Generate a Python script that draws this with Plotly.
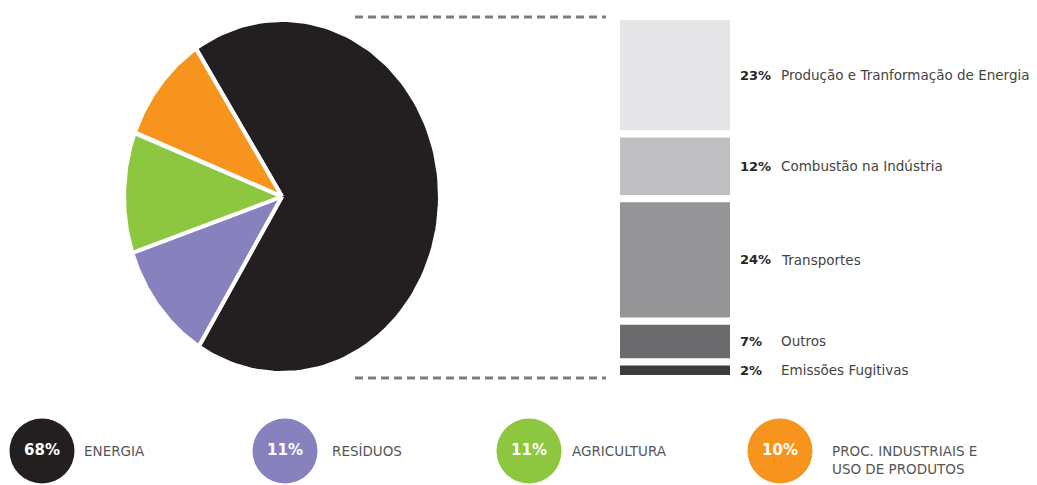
import numpy as np
import plotly.graph_objects as go

W, H = 1037, 485

# Emission sectors (pie + legend row)
sectors = ["ENERGIA", "RESÍDUOS", "AGRICULTURA", "PROC. INDUSTRIAIS E<br>USO DE PRODUTOS"]
sector_pct = [68, 11, 11, 10]
sector_colors = ["#231f20", "#8781bd", "#8dc63f", "#f7941d"]

# Breakdown of the energy sector (stacked column)
energy_parts = ["Produção e Tranformação de Energia", "Combustão na Indústria",
                "Transportes", "Outros", "Emissões Fugitivas"]
energy_pct = [23, 12, 24, 7, 2]
energy_colors = ["#e6e6e8", "#bfbfc1", "#959598", "#6b6b6d", "#3c3c3e"]

FONT = "DejaVu Sans"
START_DEG = -33          # first slice starts here, clockwise from 12 o'clock
GAP = 1.5                # vertical gap between column blocks (in % units)

fig = go.Figure()

# ---- pie drawn as filled wedges on its own (stretched) axes ----
start = START_DEG
for name, pct, col in zip(sectors, sector_pct, sector_colors):
    span = pct / 100 * 360
    th = np.radians(np.linspace(start, start + span, 120))
    xs = np.concatenate([[0], np.sin(th), [0]])
    ys = np.concatenate([[0], np.cos(th), [0]])
    fig.add_trace(go.Scatter(x=xs, y=ys, mode="lines", fill="toself",
                             fillcolor=col, line=dict(color="white", width=4),
                             hoverinfo="skip", showlegend=False,
                             xaxis="x", yaxis="y"))
    start += span

# ---- stacked column for the energy breakdown ----
top = sum(energy_pct) + GAP * (len(energy_pct) - 1)
bases, cur = [], top
for p in energy_pct:
    bases.append(cur - p)
    cur -= p + GAP
fig.add_trace(go.Bar(x=[0] * len(energy_pct), y=energy_pct, base=bases, width=1,
                     marker=dict(color=energy_colors, line=dict(width=0)),
                     hoverinfo="skip", showlegend=False, xaxis="x2", yaxis="y2"))

for part, p, b in zip(energy_parts, energy_pct, bases):
    yc = b + p / 2
    fig.add_annotation(x=738 / W, xref="paper", y=yc, yref="y2", xanchor="left",
                       yanchor="middle", showarrow=False,
                       text=f"<b>{p}%</b>", font=dict(family=FONT, size=13, color="#262626"))
    fig.add_annotation(x=779 / W, xref="paper", y=yc, yref="y2", xanchor="left",
                       yanchor="middle", showarrow=False,
                       text=part, font=dict(family=FONT, size=13.5, color="#444444"))

# ---- legend row: coloured discs with percentages ----
legend_cx = [42, 285, 529, 780]
legend_tx = [82, 330, 570, 830]
legend_cy = 451
fig.add_trace(go.Scatter(x=legend_cx, y=[legend_cy] * 4, mode="markers+text",
                         marker=dict(size=65, color=sector_colors, line=dict(width=0)),
                         text=[f"<b>{p}%</b>" for p in sector_pct],
                         textposition="middle center",
                         textfont=dict(family=FONT, size=15, color="white"),
                         hoverinfo="skip", showlegend=False, xaxis="x3", yaxis="y3"))
for name, tx in zip(sectors, legend_tx):
    two = "<br>" in name
    fig.add_annotation(x=tx, y=legend_cy + (9 if two else 0), xref="x3", yref="y3",
                       xanchor="left", yanchor="middle", align="left", showarrow=False,
                       text=name, font=dict(family=FONT, size=13.5, color="#555555"))

# ---- dashed connector lines between pie and column ----
for ypx in (17, 378):
    fig.add_shape(type="line", xref="paper", yref="paper",
                  x0=355 / W, x1=606 / W, y0=(H - ypx) / H, y1=(H - ypx) / H,
                  line=dict(color="#7d7d7d", width=3, dash="8px,5px"))

hidden = dict(visible=False, showgrid=False, zeroline=False, fixedrange=True)
fig.update_layout(
    width=W, height=H, margin=dict(l=0, r=0, t=0, b=0),
    paper_bgcolor="white", plot_bgcolor="rgba(0,0,0,0)",
    xaxis=dict(domain=[124 / W, 440 / W], range=[-1, 1], **hidden),
    yaxis=dict(domain=[(H - 373) / H, (H - 20) / H], range=[-1, 1], **hidden),
    xaxis2=dict(domain=[620 / W, 730 / W], range=[-0.5, 0.5], anchor="y2", **hidden),
    yaxis2=dict(domain=[(H - 375) / H, (H - 20) / H], range=[0, top], anchor="x2", **hidden),
    xaxis3=dict(domain=[0, 1], range=[0, W], anchor="y3", **hidden),
    yaxis3=dict(domain=[0, 1], range=[H, 0], anchor="x3", **hidden),
    showlegend=False,
)

fig.write_html("out.html")
